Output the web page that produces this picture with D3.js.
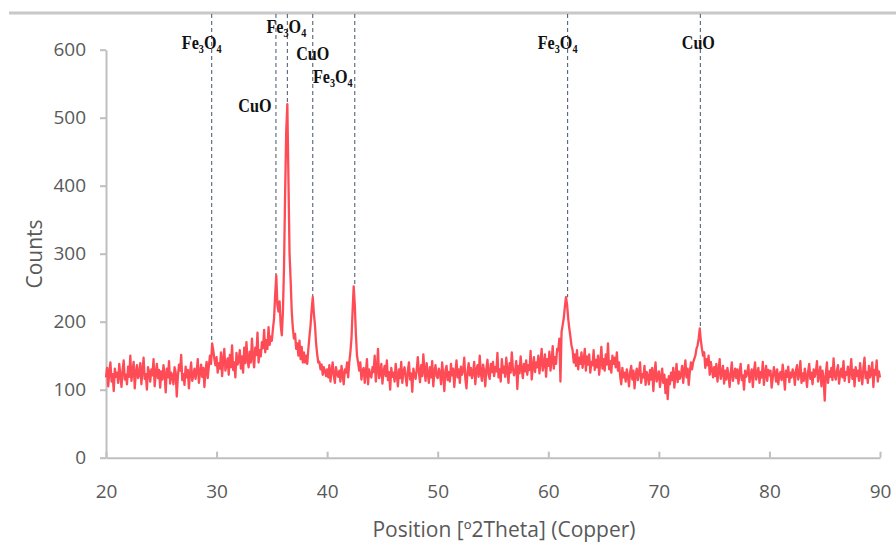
<!DOCTYPE html>
<html>
<head>
<meta charset="utf-8">
<script src="https://cdn.jsdelivr.net/npm/d3@7"></script>
<style>
  body { margin: 0; background: #fff; }
  svg { display: block; }
</style>
</head>
<body>
<svg id="chart" width="896" height="542"></svg>
<script>
// XRD scan: 2θ from 20° to 90° in 0.1° steps
const scanStart = 20;
const scanStep = 0.1;
const counts = [
  118,132,105,127,140,112,123,98,131,119,   // 20
  125,110,138,121,104,129,143,115,122,108,  // 21
  134,119,150,113,127,141,102,125,136,117,  // 22
  121,139,108,128,147,116,123,100,133,126,  // 23
  112,130,121,145,105,124,138,117,129,103,  // 24
  127,115,136,122,96,131,118,142,109,125,   // 25
  120,108,133,126,90,119,137,128,151,114,   // 26
  123,107,134,118,129,102,125,140,113,121,  // 27
  131,116,127,145,110,124,137,119,132,104,  // 28
  128,141,117,134,150,138,168,158,145,136,  // 29
  148,125,139,131,155,120,143,160,128,138,  // 30
  146,122,151,133,165,129,140,118,154,137,  // 31
  142,158,131,149,125,162,139,170,144,133,  // 32
  156,140,175,148,133,162,151,184,140,158,  // 33
  149,170,161,188,155,173,160,192,166,178,  // 34
  172,190,205,240,268,225,215,230,195,180,  // 35
  215,280,390,480,520,410,300,260,215,190,  // 36
  175,182,160,168,150,172,145,163,140,155,  // 37
  140,150,138,160,178,195,218,236,212,195,  // 38
  168,152,140,141,130,137,122,133,128,120,  // 39
  130,118,136,112,127,140,121,110,133,124,  // 40
  119,128,112,135,122,108,130,125,140,118,  // 41
  140,155,175,215,252,225,182,150,140,128,  // 42
  140,115,128,132,110,125,145,108,130,121,  // 43
  118,133,126,150,112,129,160,117,124,138,  // 44
  109,127,135,120,143,114,126,100,132,119,  // 45
  125,112,138,121,105,130,117,141,110,127,  // 46
  133,119,106,128,140,115,124,97,131,122,   // 47
  116,129,148,125,111,136,120,152,128,113,  // 48
  139,124,110,133,118,142,105,127,136,120,  // 49
  117,131,125,108,140,122,98,129,135,114,   // 50
  126,112,138,121,131,104,125,143,118,130,  // 51
  110,134,122,128,147,116,102,127,139,121,  // 52
  132,117,125,141,108,129,136,119,150,124,  // 53
  113,137,128,105,131,144,122,116,138,126,  // 54
  141,120,133,127,154,118,130,112,145,125,  // 55
  134,119,147,128,110,139,125,155,131,121,  // 56
  128,142,101,135,124,149,130,117,138,127,  // 57
  143,122,136,129,157,115,134,148,126,140,  // 58
  133,150,124,141,160,128,137,152,119,145,  // 59
  135,156,128,142,164,131,148,138,160,158,  // 60
  175,112,185,195,205,222,236,225,205,190,  // 61
  178,165,158,140,152,135,158,130,147,138,  // 62
  155,132,143,160,128,149,137,152,125,141,  // 63
  136,158,129,144,133,150,122,140,163,131,  // 64
  145,128,152,137,168,130,142,125,150,138,  // 65
  147,133,155,128,140,120,108,132,118,125,  // 66
  112,130,120,105,126,135,115,128,102,122,  // 67
  131,114,125,140,110,123,118,135,107,126,  // 68
  120,108,129,115,132,98,124,140,112,119,   // 69
  127,104,118,131,110,122,95,115,86,120,    // 70
  108,125,114,132,103,120,138,111,127,116,  // 71
  122,135,110,128,143,118,131,107,126,140,  // 72
  130,140,145,150,160,165,175,190,172,160,  // 73
  150,155,132,145,136,150,122,141,130,118,  // 74
  133,120,138,112,127,145,116,124,135,109,  // 75
  128,115,132,121,104,126,140,113,122,131,  // 76
  117,130,109,125,138,114,121,100,128,119,  // 77
  125,136,111,122,130,104,127,140,115,123,  // 78
  132,110,126,118,141,107,124,135,113,129,  // 79
  121,128,103,117,133,125,112,130,108,122,  // 80
  126,114,137,120,100,128,119,134,111,125,  // 81
  118,130,124,107,129,136,115,122,142,110,  // 82
  124,113,131,120,104,127,138,116,125,108,  // 83
  130,119,126,142,112,121,134,105,128,117,  // 84
  84,123,140,110,127,119,132,114,146,121,   // 85
  115,128,136,109,124,131,118,142,113,126,  // 86
  122,134,111,127,145,116,129,105,133,120,  // 87
  128,113,139,121,108,132,147,117,126,110,  // 88
  135,118,125,140,104,129,122,143,112,127,  // 89
  118                                       // 90
];

const xTicks = [20, 30, 40, 50, 60, 70, 80, 90];
const yTicks = [0, 100, 200, 300, 400, 500, 600];

// Phase reflections marked on the pattern
const phaseAngles = [29.56, 35.37, 36.4, 38.7, 42.5, 61.75, 73.75];
const phaseNames = ["Fe3O4", "CuO", "Fe3O4", "CuO", "Fe3O4", "Fe3O4", "CuO"];
const phasePeakCounts = [168, 268, 520, 236, 252, 236, 190];

// Label placement: [horizontal offset from marker, baseline y]
const labelPlacement = [[-10, 49], [-21, 112], [-1, 33], [0, 60], [-22, 83], [-10, 49], [-2, 49]];

const svg = d3.select("#chart");
const textColor = "#595959";
const axisColor = "#bfbfbf";

const x = d3.scaleLinear().domain([20, 90]).range([106, 880]);
const y = d3.scaleLinear().domain([0, 600]).range([457.7, 49.7]);

// top frame rule
svg.append("rect")
  .attr("x", 9).attr("y", 11.5).attr("width", 887).attr("height", 3)
  .attr("fill", "#c8c8c8");

// y axis
const yAxis = svg.append("g")
  .attr("transform", `translate(${x(20)},0)`)
  .call(d3.axisLeft(y).tickValues(yTicks).tickSize(6).tickSizeOuter(0).tickPadding(14));
yAxis.select(".domain").attr("stroke", axisColor).attr("stroke-width", 2);
yAxis.selectAll(".tick line").attr("stroke", axisColor).attr("stroke-width", 2);
yAxis.selectAll("text")
  .attr("fill", textColor)
  .style("font-family", "'Open Sans', sans-serif")
  .style("font-size", "19px");

// x axis, ticks pointing up into the plot
const xAxis = svg.append("g")
  .attr("transform", `translate(0,${y(0)})`)
  .call(d3.axisBottom(x).tickValues(xTicks).tickSize(-6).tickSizeOuter(0).tickPadding(27));
xAxis.select(".domain").attr("stroke", axisColor).attr("stroke-width", 2);
xAxis.selectAll(".tick line").attr("stroke", axisColor).attr("stroke-width", 2);
xAxis.selectAll("text")
  .attr("fill", textColor)
  .style("font-family", "'Open Sans', sans-serif")
  .style("font-size", "19px");

// axis titles
svg.append("text")
  .attr("transform", "translate(35,254) rotate(-90)")
  .attr("text-anchor", "middle")
  .attr("dy", "0.35em")
  .attr("fill", textColor)
  .style("font-family", "'Open Sans', sans-serif")
  .style("font-size", "21px")
  .text("Counts");

svg.append("text")
  .attr("x", 504).attr("y", 537)
  .attr("text-anchor", "middle")
  .attr("fill", textColor)
  .style("font-family", "'Open Sans', sans-serif")
  .style("font-size", "21px")
  .text("Position [º2Theta] (Copper)");

// dashed reflection markers
svg.append("g")
  .selectAll("line")
  .data(phaseAngles)
  .join("line")
  .attr("x1", d => x(d)).attr("x2", d => x(d))
  .attr("y1", 14)
  .attr("y2", (d, i) => y(phasePeakCounts[i]))
  .attr("stroke", "#44546a")
  .attr("stroke-width", 1)
  .attr("stroke-dasharray", "4,3");

// diffraction trace
const line = d3.line()
  .x((d, i) => x(scanStart + i * scanStep))
  .y(d => y(d));

svg.append("path")
  .datum(counts)
  .attr("d", line)
  .attr("fill", "none")
  .attr("stroke", "#fe4b55")
  .attr("stroke-width", 2.3)
  .attr("stroke-linejoin", "round");

// phase labels with subscript digits
phaseNames.forEach((name, i) => {
  const [dx, by] = labelPlacement[i];
  const g = svg.append("g")
    .attr("transform", `translate(${x(phaseAngles[i]) + dx},${by}) scale(0.85,1)`);
  const t = g.append("text")
    .attr("text-anchor", "middle")
    .style("font-family", "'Liberation Serif', 'Times New Roman', serif")
    .style("font-weight", "bold")
    .style("font-size", "19px")
    .attr("fill", "#111");
  const parts = name.match(/[A-Za-z]+|\d+/g);
  let shifted = false;
  parts.forEach(p => {
    const isSub = /\d/.test(p);
    const ts = t.append("tspan").text(p);
    if (isSub) {
      ts.style("font-size", "12px").attr("dy", shifted ? 0 : 4);
      shifted = true;
    } else {
      if (shifted) ts.attr("dy", -4);
      shifted = false;
    }
  });
});
</script>
</body>
</html>
